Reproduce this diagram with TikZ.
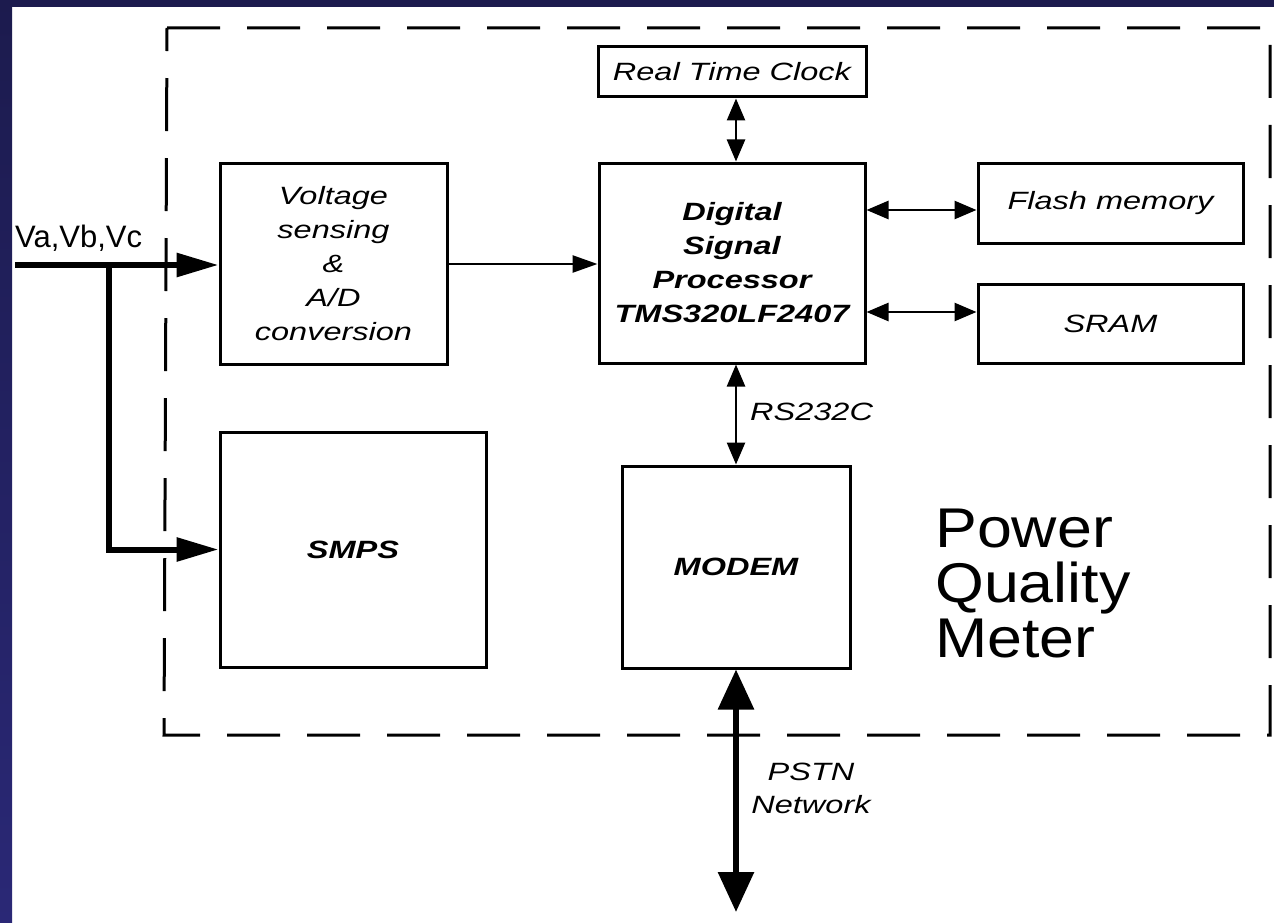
\documentclass[tikz,border=0pt]{standalone}
\usepackage{fontspec}
\setmainfont{Liberation Sans}
\newfontfamily\labfont{Liberation Sans}[FakeStretch=1.3]
\newfontfamily\bigfont{Liberation Sans}[FakeStretch=1.12]
\usetikzlibrary{arrows.meta,calc}
\definecolor{navytop}{RGB}{28,27,78}
\definecolor{navybot}{RGB}{42,40,118}
\tikzset{
  box/.style={draw=black, line width=3pt, rectangle, inner sep=0pt, align=center,
    font=\labfont\itshape\fontsize{25}{34}\selectfont},
  boldbox/.style={box, font=\labfont\bfseries\itshape\fontsize{25}{34}\selectfont},
  lbl/.style={inner sep=0pt, align=center, font=\labfont\itshape\fontsize{25}{33}\selectfont},
  conn/.style={line width=2.6pt},
  thinarrow/.style={conn, -{Triangle[length=25pt,width=17pt]}},
  thinbi/.style={conn, {Triangle[length=22pt,width=18pt]}-{Triangle[length=22pt,width=18pt]}},
  fatarrow/.style={line width=6pt, -{Triangle[length=42pt,width=23pt]}},
  fatbi/.style={line width=6pt, {Triangle[length=40pt,width=35pt]}-{Triangle[length=40pt,width=35pt]}},
  frame/.style={line width=3pt, dash pattern=on 53pt off 27pt}
}
\begin{document}
\begin{tikzpicture}[x=1pt,y=-1pt]
\useasboundingbox (0,0) rectangle (1274,923);
\fill[white] (0,0) rectangle (1274,923);
\shade[top color=navytop, bottom color=navybot] (0,0) rectangle (12,923);
\fill[navytop] (0,0) rectangle (1274,7);

% dashed enclosure
\draw[frame] (167,28) -- (1270,28) -- (1270,735) -- (164,735) -- cycle;

% blocks
\node[box, minimum width=268pt, minimum height=50pt] (rtc) at (732,72) {Real Time Clock};
\node[box, minimum width=227pt, minimum height=201pt] (volt) at (333.5,264)
  {Voltage\\sensing\\\&\\A/D\\conversion};
\node[boldbox, minimum width=266pt, minimum height=200pt] (dsp) at (732,263)
  {Digital\\Signal\\Processor\\TMS320LF2407};
\node[box, minimum width=265pt, minimum height=80pt] (flash) at (1110.5,203) {Flash memory};
\node[box, minimum width=265pt, minimum height=79pt] (sram) at (1110.5,324) {SRAM};
\node[boldbox, minimum width=266pt, minimum height=235pt] (smps) at (353,549.5) {SMPS};
\node[boldbox, minimum width=228pt, minimum height=202pt] (modem) at (736,567) {MODEM};

% labels
\node[inner sep=0pt, anchor=base west, font=\fontsize{31}{31}\selectfont] (vin) at (15,247) {Va,Vb,Vc};
\node[lbl, anchor=west] (rs) at (750,412) {RS232C};
\node[lbl] (pstnlbl) at (811,788) {PSTN\\Network};
\node[inner sep=0pt, anchor=base west, align=left, font=\bigfont\fontsize{56}{55}\selectfont] (pqm) at (935,657)
  {Power\\Quality\\Meter};

% connectors
\coordinate (in) at (15,265);
\coordinate (br) at (109,265);
\coordinate (pstn) at (736,912);
\coordinate (fl) at ([yshift=-7pt]flash.west);
\coordinate (sr) at ([yshift=12pt]sram.west);
\coordinate (rtcs) at ([xshift=4pt]rtc.south);
\coordinate (dspn) at ([xshift=4pt]dsp.north);
\draw[fatarrow] (in) -- (volt.west |- in);
\draw[fatarrow] (br) |- (smps.west);
\draw[thinarrow] (volt.east) -- (dsp.west |- volt.east);
\draw[thinbi] (rtcs) -- (dspn);
\draw[thinbi] (dsp.east |- fl) -- (fl);
\draw[thinbi] (dsp.east |- sr) -- (sr);
\draw[thinbi] (dsp.south -| modem.north) -- (modem.north);
\draw[fatbi] (modem.south) -- (pstn);
\end{tikzpicture}
\end{document}
